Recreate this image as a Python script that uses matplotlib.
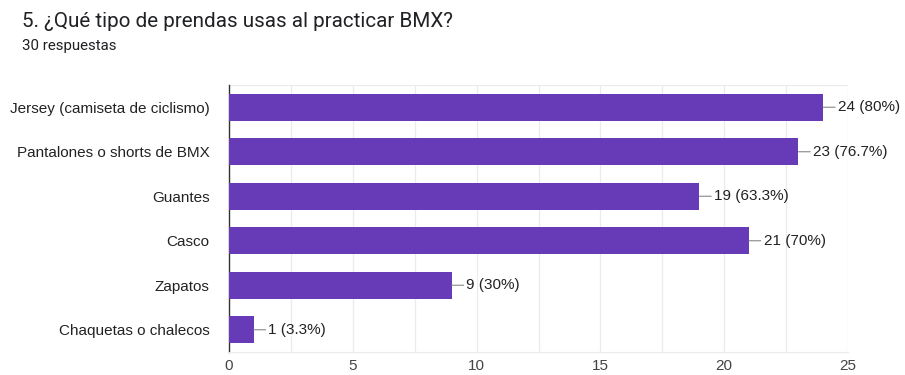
import matplotlib
matplotlib.use("Agg")
import matplotlib.pyplot as plt
from matplotlib.ticker import MultipleLocator

categories = ["Jersey (camiseta de ciclismo)", "Pantalones o shorts de BMX", "Guantes",
              "Casco", "Zapatos", "Chaquetas o chalecos"]
counts = [24, 23, 19, 21, 9, 1]
pcts = ["80%", "76.7%", "63.3%", "70%", "30%", "3.3%"]
title = "5. ¿Qué tipo de prendas usas al practicar BMX?"
subtitle = "30 respuestas"

plt.rcParams["font.family"] = ["Liberation Sans", "DejaVu Sans"]
PURPLE = "#673ab7"
HEAD = ["Roboto", "DejaVu Sans"]

fig = plt.figure(figsize=(9.05, 3.75), dpi=100)
ax = fig.add_axes([229 / 905, 1 - 352 / 375, (848 - 229) / 905, (352 - 85) / 375])

y = list(range(len(categories)))
ax.barh(y, counts, height=0.6, color=PURPLE, zorder=3)
ax.set_ylim(len(categories) - 0.5, -0.5)
ax.set_yticks(y)
ax.set_yticklabels(categories, fontsize=11, color="#222222")
ax.set_xlim(0, 25)
ax.xaxis.set_major_locator(MultipleLocator(5))
ax.xaxis.set_minor_locator(MultipleLocator(2.5))
ax.tick_params(axis="x", which="both", length=0, labelsize=11, labelcolor="#444444", pad=5)
ax.tick_params(axis="y", length=0, pad=14)
ax.grid(axis="x", which="both", color="#ebebeb", lw=0.9, zorder=0)

for s in ("top", "right"):
    ax.spines[s].set_visible(False)
ax.spines["bottom"].set_color("#ebebeb")
ax.spines["left"].set_color("#333333")
ax.spines["left"].set_linewidth(1.0)
ax.axhline(-0.5, color="#ebebeb", lw=0.9, zorder=0)

for yi, c, p in zip(y, counts, pcts):
    ax.annotate(f"{c} ({p})", xy=(c, yi), xytext=(10.5, 0), textcoords="offset points",
                va="center", ha="left", fontsize=11, color="#222222",
                arrowprops=dict(arrowstyle="-", color="#888888", lw=0.8, shrinkA=0, shrinkB=0))

fig.text(22 / 905, 1 - 27 / 375, title, fontsize=14.9, color="#202124", va="baseline", family=HEAD)
fig.text(22 / 905, 1 - 50 / 375, subtitle, fontsize=10.8, color="#202124", va="baseline", family=HEAD)

fig.savefig("out.png", dpi=100)
